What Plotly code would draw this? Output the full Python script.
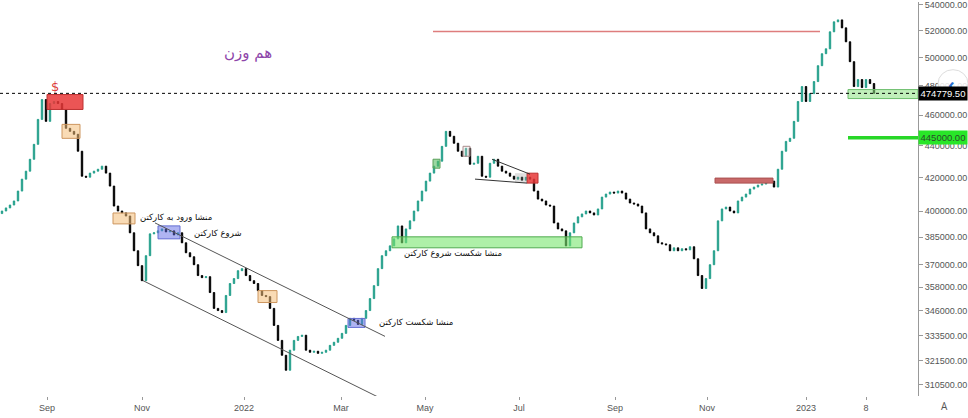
import math
import plotly.graph_objects as go

# ---------------- data ----------------
first_open = 398500
close = [
    400000, 401800, 403500, 405900, 411800, 419000, 423900, 431300, 440800, 457100,
    470500, 455800, 467800, 469200, 467800, 463800, 451200, 449200, 447300, 436400,
    420800, 420200, 422700, 423900, 425100, 427000, 422700, 414800, 402900, 400000,
    398900, 397100, 387500, 377500, 369400, 361400, 374800, 386900, 387500, 388600,
    389700, 388000, 388600, 386300, 387500, 381900, 376400, 374200, 369900, 364100,
    363000, 363500, 355200, 347100, 346000, 345000, 353700, 359900, 362500, 366700,
    367800, 364100, 361400, 359900, 356200, 353700, 353100, 347100, 338600, 331300,
    324200, 317200, 326600, 331300, 333200, 333800, 326600, 325600, 326100, 325100,
    325600, 326600, 328900, 330400, 332300, 334700, 338600, 342100, 341100, 339100,
    342100, 346000, 352100, 358800, 367800, 374800, 377500, 380200, 384100, 391400,
    381900, 389700, 394300, 400000, 405900, 411800, 417800, 422700, 427000, 430100,
    439500, 449200, 446000, 441500, 436400, 433200, 438300, 428200, 428800, 433200,
    420800, 420200, 428800, 431300, 427000, 423900, 422700, 420800, 419000, 420200,
    418400, 420200, 419000, 411800, 407000, 405900, 403500, 402900, 393100, 389700,
    388600, 380200, 387500, 393100, 396600, 398300, 400000, 398900, 397700, 401200,
    408200, 410000, 411200, 410600, 411800, 410600, 407000, 404700, 404100, 402900,
    398900, 389700, 387500, 385800, 381900, 381300, 380800, 377500, 379100, 377500,
    378600, 378000, 379700, 373100, 364100, 357300, 362500, 369900, 377500, 394300,
    401200, 402300, 400000, 398900, 405900, 408200, 410000, 413000, 414200, 415400,
    416000, 417200, 417800, 414200, 425100, 436400, 442700, 444700, 455800, 469200,
    479500, 469200, 474600, 483000, 494300, 503000, 506600, 519300, 526900, 528400,
    522300, 511800, 497200, 479500, 484400, 478800, 484400, 481600, 474779.5,
]
last_price = 474779.5
target_level = 445000
resistance_level = 519500

x_tick_bars = [11.25, 35, 60.5, 84.75, 105.75, 129.25, 153.25, 176.25, 201, 216]
x_tick_labels = ["Sep", "Nov", "2022", "Mar", "May", "Jul", "Sep", "Nov", "2023", "8"]
y_ticks = [540000, 520000, 500000, 480000, 460000, 440000, 420000, 400000,
           385000, 370000, 358000, 346000, 333500, 321500, 310500]
y_tick_labels = ["%.2f" % v for v in y_ticks]

# zones: (bar_start, bar_end, price_low, price_high)
red_zones = [(11.25, 20.25, 463760, 473960), (131.25, 134, 416600, 422660)]
orange_zones = [(15, 19.5, 444670, 453790), (27.75, 33.25, 392560, 398860),
                (64, 68.75, 350080, 356220)]
blue_zones = [(39, 44.5, 384110, 391420), (86.5, 90.75, 337620, 342060)]
green_zone = (97.5, 145, 379130, 385230)
small_green = (107.75, 109.5, 425750, 431340)
small_gray = (115.25, 117, 433220, 439540)
gray_zone = (128.25, 131.25, 416600, 422660)
brown_zone = (178.25, 192.75, 416600, 419650)
right_zone = (211.5, 229, 471200, 477400)
# trend lines: (bar0, price0, bar1, price1)
channel_upper = (38.25, 393120, 95.75, 333240)
channel_lower = (35.25, 361420, 94, 305070)
wedge_upper = (122.5, 431340, 132, 422060)
wedge_lower = (118.25, 419020, 131.25, 416600)

# ---------------- figure ----------------
TEAL = "#26a08c"
W, H = 968, 418
PW, PH = 918, 396

bars = list(range(len(close)))
opens = [first_open] + close[:-1]
highs = [max(o, c) for o, c in zip(opens, close)]
lows = [min(o, c) for o, c in zip(opens, close)]

fig = go.Figure(go.Candlestick(
    x=bars, open=opens, high=highs, low=lows, close=close,
    increasing=dict(line=dict(color=TEAL, width=1), fillcolor=TEAL),
    decreasing=dict(line=dict(color="#000000", width=1), fillcolor="#000000"),
    whiskerwidth=0, hoverinfo="skip", showlegend=False,
))

shapes = []


def rect(z, fill, line, lw=1):
    shapes.append(dict(type="rect", xref="x", yref="y", x0=z[0], x1=z[1], y0=z[2], y1=z[3],
                       fillcolor=fill, line=dict(color=line, width=lw), layer="above"))


def seg(l, color, width=1, dash="solid"):
    shapes.append(dict(type="line", xref="x", yref="y", x0=l[0], y0=l[1], x1=l[2], y1=l[3],
                       line=dict(color=color, width=width, dash=dash), layer="above"))


rect(green_zone, "rgba(120,230,110,0.6)", "rgb(80,170,80)")
rect(right_zone, "rgba(140,225,130,0.55)", "rgb(110,190,110)")
for z in red_zones:
    rect(z, "rgba(232,55,55,0.85)", "rgb(190,50,50)")
for z in orange_zones:
    rect(z, "rgba(244,190,120,0.55)", "rgb(205,150,95)")
for z in blue_zones:
    rect(z, "rgba(95,105,230,0.5)", "rgb(100,110,210)")
rect(small_green, "rgba(90,190,100,0.6)", "rgb(90,160,90)")
rect(small_gray, "rgba(235,215,215,0.3)", "rgb(170,140,140)")
rect(gray_zone, "rgba(150,150,150,0.3)", "rgba(150,150,150,0)")
rect(brown_zone, "rgb(200,105,105)", "rgb(170,80,80)")

seg(channel_upper, "#555555", 1)
seg(channel_lower, "#555555", 1)
seg(wedge_upper, "#333333", 1)
seg(wedge_lower, "#333333", 1)
seg((107.75, resistance_level, 204.5, resistance_level), "rgb(222,125,125)", 1.5)
seg((211.5, target_level, 229, target_level), "rgb(40,215,40)", 3.5)

# last price dotted line
shapes.append(dict(type="line", xref="paper", yref="y", x0=0, x1=1,
                   y0=last_price, y1=last_price,
                   line=dict(color="#000000", width=1, dash="dot"), layer="above"))
# scroll button on price scale
shapes.append(dict(type="circle", xref="paper", yref="paper",
                   x0=938 / PW, x1=968 / PW, y0=1 - 96 / PH, y1=1 - 68 / PH,
                   fillcolor="rgba(255,255,255,0.85)", line=dict(color="#dddddd", width=1),
                   layer="above"))


def px(x):
    return x / PW


def py(y):
    return 1 - y / PH


FA = "DejaVu Sans, sans-serif"
annotations = [
    dict(text="هم وزن", x=px(248), y=py(51), font=dict(size=15, color="rgb(142,70,170)", family=FA)),
    dict(text="$", x=px(55), y=py(85), font=dict(size=13, color="rgb(220,60,60)", family=FA)),
    dict(text="منشا ورود به کارکتن", x=px(138), y=py(216), xanchor="left",
         font=dict(size=8.5, color="#111", family=FA)),
    dict(text="شروع کارکتن", x=px(192), y=py(232), xanchor="left",
         font=dict(size=8.5, color="#111", family=FA)),
    dict(text="منشا شکست شروع کارکتن", x=px(402), y=py(252), xanchor="left",
         font=dict(size=8.5, color="#111", family=FA)),
    dict(text="منشا شکست کارکتن", x=px(377), y=py(322), xanchor="left",
         font=dict(size=8.5, color="#111", family=FA)),
    dict(text="<b>‹</b>", x=px(951), y=py(82), font=dict(size=18, color="rgb(40,110,210)")),
    dict(text="A", x=px(944), y=py(406), font=dict(size=10, color="#555")),
]
for a in annotations:
    a.update(xref="paper", yref="paper", showarrow=False)
    a.setdefault("xanchor", "center")
    a.setdefault("yanchor", "middle")

annotations.append(dict(text="%.2f" % last_price, xref="paper", yref="y", x=1, y=math.log10(last_price),
                        xanchor="left", yanchor="middle", showarrow=False, bgcolor="#000000",
                        width=46, height=11, font=dict(size=9.5, color="#ffffff", family="Liberation Sans")))
annotations.append(dict(text="%.2f" % target_level, xref="paper", yref="y", x=1, y=math.log10(target_level),
                        xanchor="left", yanchor="middle", showarrow=False, bgcolor="rgb(40,230,40)",
                        width=46, height=11, font=dict(size=9.5, color="#2a4a2a", family="Liberation Sans")))

y_top = 540000 * math.exp(3 / 690)
y_bot = 540000 * math.exp(-(PH - 3) / 690)

fig.update_layout(
    width=W, height=H,
    margin=dict(l=0, r=W - PW, t=0, b=H - PH),
    paper_bgcolor="white", plot_bgcolor="white",
    boxgap=0.5,
    shapes=shapes, annotations=annotations,
    xaxis=dict(range=[-0.5, 229], rangeslider=dict(visible=False), showgrid=False, zeroline=False,
               tickmode="array", tickvals=x_tick_bars, ticktext=x_tick_labels,
               ticks="outside", ticklen=3, tickcolor="#999", showline=False,
               tickfont=dict(size=9, color="#555", family="Liberation Sans")),
    yaxis=dict(type="log", side="right", range=[math.log10(y_bot), math.log10(y_top)],
               showgrid=False, zeroline=False, showline=True, linecolor="#999", linewidth=1,
               tickmode="array", tickvals=y_ticks, ticktext=y_tick_labels,
               ticks="outside", ticklen=4, tickcolor="#999", ticklabeloverflow="allow",
               tickfont=dict(size=9, color="#555", family="Liberation Sans")),
)

fig.write_html("out.html", config={"displayModeBar": False},
               post_script="document.body.style.margin='0';document.body.style.overflow='hidden';")
